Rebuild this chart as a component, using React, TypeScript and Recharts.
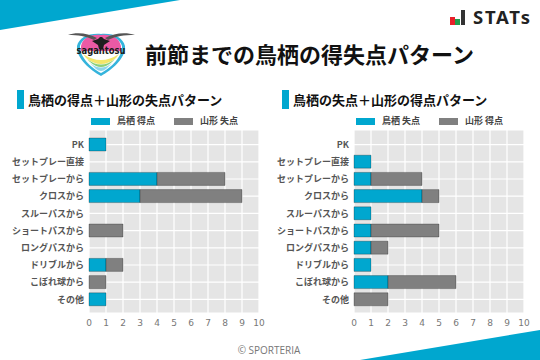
import React from 'react';
import { BarChart, Bar, XAxis, YAxis, CartesianGrid, Legend } from 'recharts';

const categories = ['PK', 'セットプレー直接', 'セットプレーから', 'クロスから', 'スルーパスから', 'ショートパスから', 'ロングパスから', 'ドリブルから', 'こぼれ球から', 'その他'];
const tosuScored = [1, 0, 4, 3, 0, 0, 0, 1, 0, 1];
const yamagataConceded = [0, 0, 4, 6, 0, 2, 0, 1, 1, 0];
const tosuConceded = [0, 1, 1, 4, 1, 1, 1, 1, 2, 0];
const yamagataScored = [0, 0, 3, 1, 0, 4, 1, 0, 4, 2];
const xTicks = [0, 1, 2, 3, 4, 5, 6, 7, 8, 9, 10];

const BLUE = '#00a7cf';
const GREY = '#808080';
const JP = '"Noto Sans CJK JP", sans-serif';

const toRows = (home: number[], away: number[]) =>
  categories.map((name, i) => ({ name, home: home[i], away: away[i] }));

const LegendRow = ({ homeName, awayName }: { homeName: string; awayName: string }) => {
  const item = (label: string, color: string, width: number) => (
    <div style={{ display: 'flex', alignItems: 'center', width }}>
      <span style={{ width: 19, height: 7, background: color, marginRight: 7 }} />
      <span style={{ fontSize: 9, fontWeight: 700, color: '#444' }}>{label}</span>
    </div>
  );
  return (
    <div style={{ display: 'flex', paddingLeft: 91, fontFamily: JP, height: 20, lineHeight: '10px', marginTop: -1 }}>
      {item(homeName, BLUE, 83)}
      {item(awayName, GREY, 83)}
    </div>
  );
};

const Panel = ({ title, left, homeName, awayName, home, away }: any) => (
  <div style={{ position: 'absolute', left, top: 0 }}>
    <div style={{ position: 'absolute', left: 17, top: 90, width: 7, height: 19, background: BLUE }} />
    <div style={{ position: 'absolute', left: 28, top: 90, width: 240, fontFamily: JP, fontSize: 13, fontWeight: 700, lineHeight: '19px', color: '#111', whiteSpace: 'nowrap' }}>
      {title}
    </div>
    <div style={{ position: 'absolute', left: 0, top: 112 }}>
      <BarChart width={270} height={218} data={toRows(home, away)} layout="vertical" margin={{ top: 0, right: 11, bottom: 0, left: 0 }} barCategoryGap={2}>
        <CartesianGrid stroke="#ffffff" strokeWidth={1.2} fill="#e5e5e5" />
        <Legend verticalAlign="top" height={18} content={() => <LegendRow homeName={homeName} awayName={awayName} />} />
        <XAxis
          type="number"
          domain={[0, 10]}
          ticks={xTicks}
          height={17}
          axisLine={false}
          tickLine={false}
          tickMargin={1}
          interval={0}
          tick={{ fontSize: 9, fill: '#777', fontFamily: '"DejaVu Sans"' }}
        />
        <YAxis
          type="category"
          dataKey="name"
          width={89}
          interval={0}
          padding={{ top: 6, bottom: 5 }}
          axisLine={false}
          tickLine={false}
          tickSize={0}
          tickMargin={5}
          tick={{ fontSize: 9, fontWeight: 700, fill: '#555', fontFamily: JP }}
        />
        <Bar dataKey="home" stackId="a" fill={BLUE} stroke="#000" strokeOpacity={0.25} isAnimationActive={false} />
        <Bar dataKey="away" stackId="a" fill={GREY} stroke="#000" strokeOpacity={0.25} isAnimationActive={false} />
      </BarChart>
    </div>
  </div>
);

// crest and corner decoration, not data
const Decor = () => (
  <svg width={540} height={360} style={{ position: 'absolute', left: 0, top: 0 }}>
    <polygon points="0,0 180,0 0,30" fill={BLUE} />
    <polygon points="360,360 540,330 540,360" fill={BLUE} />
    <g>
      <path d="M101 34 C88 33 79 38 77 46 C76 58 90 70 101 76 C112 70 126 58 125 46 C123 38 114 33 101 34 Z" fill="#35b4dc" />
      <path d="M101 36 C90 35 82 39 80 46 C79 56 91 68 101 73 C111 68 123 56 122 46 C120 39 112 35 101 36 Z" fill="#ffffff" />
      <path d="M101 35 C90 34 83 38 81 46 L81 51 L121 51 L121 46 C119 38 112 34 101 35 Z" fill="#ec5aa5" />
      <path d="M83 54 Q101 66 119 54 L116 58 Q101 70 86 58 Z" fill="#f3e66a" />
      <path d="M87 59 Q101 70 115 59 L112 62 Q101 72 90 62 Z" fill="#8ccf7a" />
      <path d="M90 63 Q101 72 112 63 L106 69 Q101 73 96 69 Z" fill="#8fd6ea" />
      <path d="M68 35 C76 32 88 33 97 38 L94 40 C86 36 78 35 68 35 Z" fill="#555" />
      <path d="M135 35 C126 32 114 33 105 38 L108 40 C116 36 124 35 135 35 Z" fill="#555" />
      <path d="M92 41 L98 39 L100 37 L102 37 L104 39 L110 41 L104 45 L103 49 L99 49 L98 45 Z" fill="#1f1f1f" />
      <text x={101} y={54} textAnchor="middle" fontFamily='"DejaVu Sans"' fontWeight={700} fontSize={10} fill="#1a1a1a" textLength={49} lengthAdjust="spacingAndGlyphs">sagantosu</text>
    </g>
    <rect x={450} y={17} width={5} height={8} fill="#e8202a" />
    <rect x={455} y={19} width={5} height={6} fill="#1f9e4d" />
    <rect x={461} y={10} width={4} height={15} fill="#333" />
    <text x={473} y={24} fontFamily='"Noto Sans", sans-serif' fontWeight={700} fontSize={18.5} fill="#222" textLength={57} lengthAdjust="spacing">STATs</text>
  </svg>
);

export default function App() {
  return (
    <div style={{ position: 'absolute', left: 0, top: 0, width: 540, height: 360, background: '#fff', overflow: 'hidden' }}>
      <Decor />
      <div style={{ position: 'absolute', left: 145, top: 38, fontFamily: JP, fontSize: 22, fontWeight: 700, lineHeight: '30px', color: '#111', whiteSpace: 'nowrap' }}>
        前節までの鳥栖の得失点パターン
      </div>
      <Panel title="鳥栖の得点＋山形の失点パターン" left={0} homeName="鳥栖 得点" awayName="山形 失点" home={tosuScored} away={yamagataConceded} />
      <Panel title="鳥栖の失点＋山形の得点パターン" left={265} homeName="鳥栖 失点" awayName="山形 得点" home={tosuConceded} away={yamagataScored} />
      <div style={{ position: 'absolute', left: 0, width: 538, top: 343, textAlign: 'center', fontFamily: '"Open Sans", sans-serif', fontSize: 10, lineHeight: '14px', color: '#777' }}>
        © SPORTERIA
      </div>
    </div>
  );
}
